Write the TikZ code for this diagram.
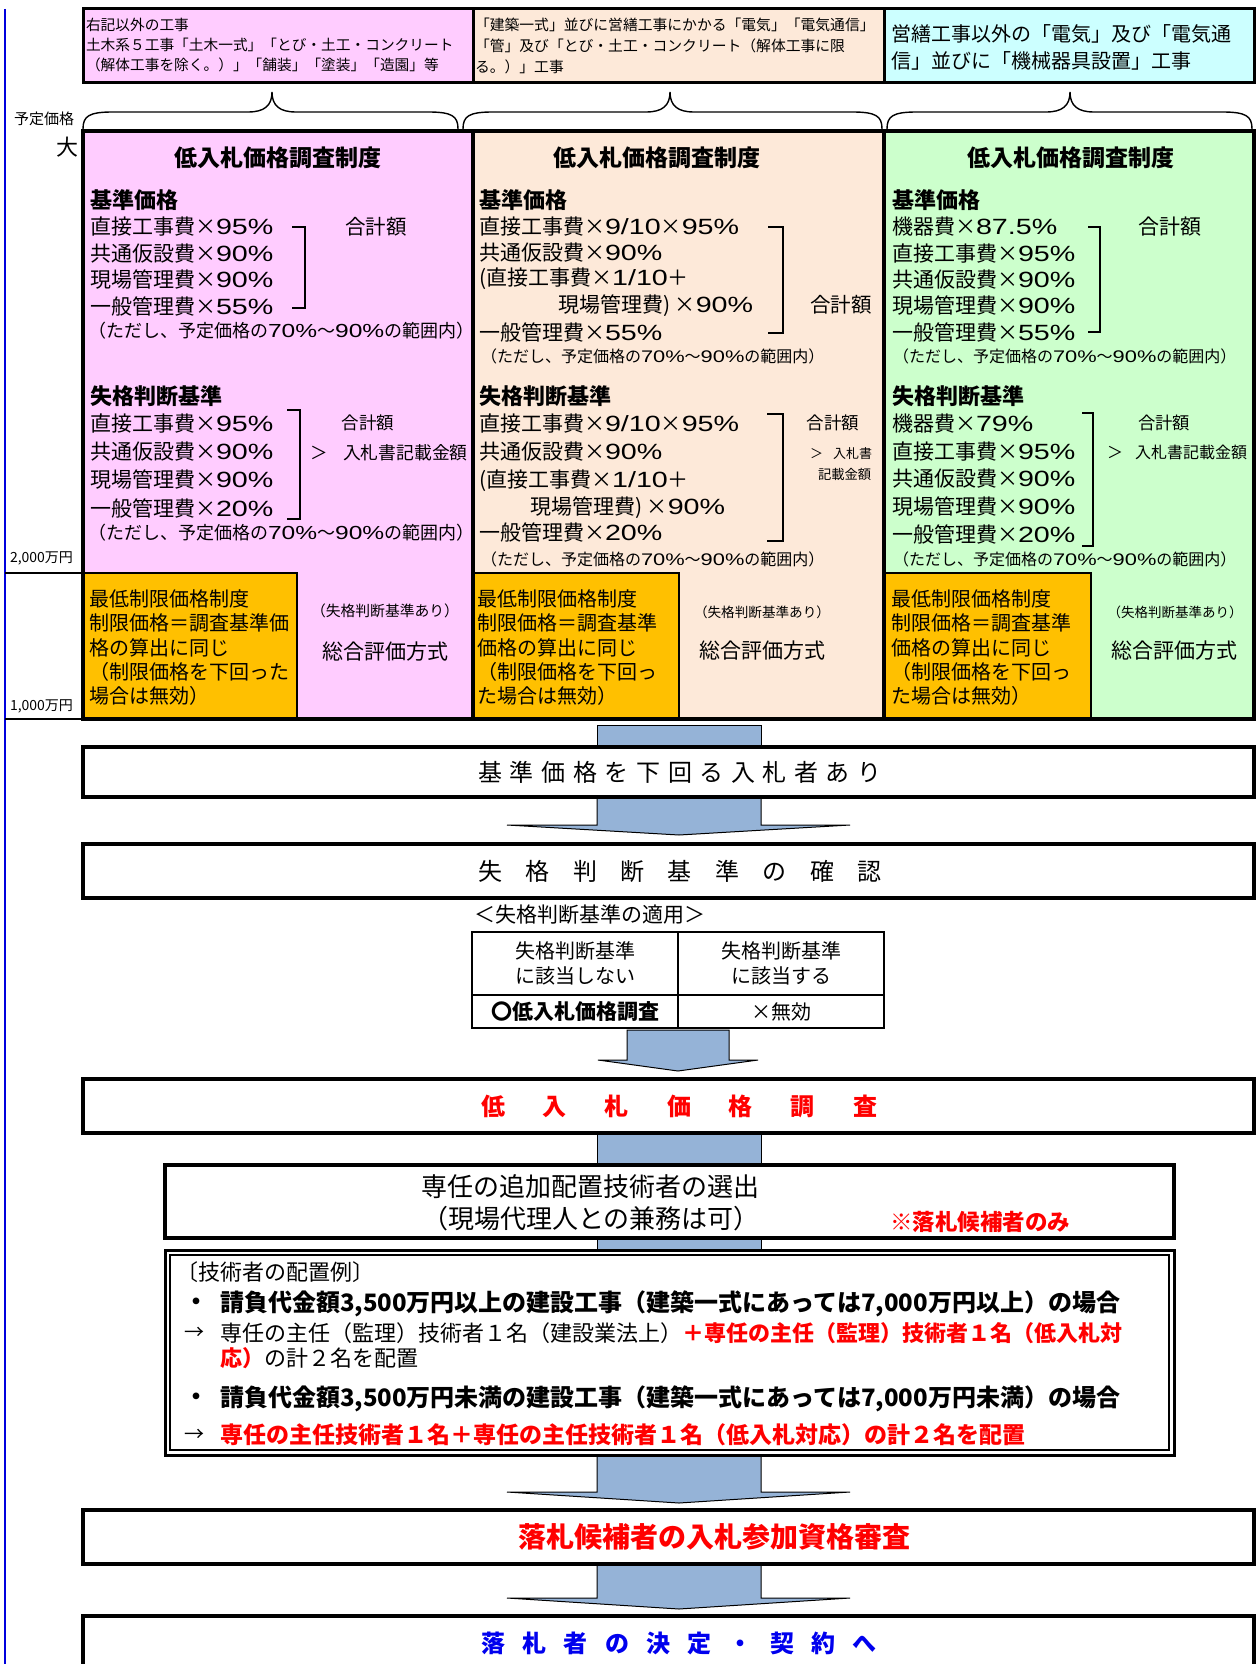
\documentclass[tikz,border=0pt]{standalone}
\usepackage{fontspec}
\setmainfont{Noto Sans CJK JP}
\newfontfamily\digf[Scale=1.05,FakeStretch=1.3]{Liberation Sans}
\newcommand\dg[1]{{\digf #1}}
\usetikzlibrary{calc}
\pgfdeclarelayer{back}
\pgfdeclarelayer{bg}
\pgfsetlayers{back,bg,main}
\definecolor{cpink}{HTML}{FFCCFF}
\definecolor{cpeach}{HTML}{FDE9D9}
\definecolor{ccyan}{HTML}{CCFFFF}
\definecolor{cgreen}{HTML}{CCFFCC}
\definecolor{corange}{HTML}{FFC000}
\definecolor{carrow}{HTML}{95B3D7}
\definecolor{cred}{HTML}{FF0000}
\definecolor{cblue}{HTML}{0000EE}
\definecolor{cline}{HTML}{0000DD}
\makeatletter
\def\lsp@loop#1#2\lsp@end{#1\ifx\relax#2\relax\else\kern\lsp@gap\relax\lsp@loop#2\lsp@end\fi}
\newcommand\lspaced[2]{\def\lsp@gap{#1}\lsp@loop#2\lsp@end}
\makeatother
\newcommand\notetext{（ただし、予定価格の\dg{70\%}～\dg{90\%}の範囲内）}
\newcommand\mybrace[3]{\draw[line width=1.4pt] (#1,129) .. controls (#1,116) and ({#1+6},112) .. ({#1+30},112) -- ({#2-24},112) .. controls ({#2-8},112) and (#2,106) .. (#2,92) .. controls (#2,106) and ({#2+8},112) .. ({#2+24},112) -- ({#3-30},112) .. controls ({#3-6},112) and (#3,116) .. (#3,129);}
\begin{document}
\begin{tikzpicture}[x=1pt,y=-1pt,
  every node/.style={inner sep=0pt,outer sep=0pt},
  tx/.style={anchor=west,font=\fontsize{#1}{#1}\selectfont},
  tb/.style={anchor=west,font=\bfseries\fontsize{#1}{#1}\selectfont},
  tc/.style={anchor=center,font=\fontsize{#1}{#1}\selectfont},
  tcb/.style={anchor=center,font=\bfseries\fontsize{#1}{#1}\selectfont},
  topbox/.style={draw,line width=3pt,anchor=north west,minimum height=74pt},
  colfill/.style={anchor=north west,minimum height=588pt},
  orbox/.style={draw,line width=2.5pt,fill=corange,anchor=north west,minimum height=146pt},
  flowbox/.style={draw,line width=4pt,fill=white,anchor=north west},
  cell/.style={draw,line width=1.6pt,anchor=north west,minimum width=206pt,align=center,font=\fontsize{20}{25}\selectfont},
  brk/.style={line width=1.5pt},
  blk/.style={fill=carrow,draw=black,line width=1pt,line join=miter}]
\begin{pgfonlayer}{back}
\fill[white] (0,0) rectangle (1257,1664);
\end{pgfonlayer}
\useasboundingbox (0,0) rectangle (1257,1664);
% left scale
\draw[cline,line width=2pt] (5,9) -- (5,1664);
\draw[line width=2pt] (5,573) -- (83,573);
\draw[line width=2pt] (5,719) -- (83,719);
\node[tx=15] (yotei) at (14,119) {予定価格};
\node[tc=22] (dai) at (67,147) {大};
\node[tx=14] (m2000) at (10,558) {2,000万円};
\node[tx=14] (m1000) at (10,706) {1,000万円};
% top category boxes
\node[topbox,fill=cpink,minimum width=390pt] (topL) at (83,9) {};
\node[topbox,fill=cpeach,minimum width=411pt] (topM) at (473,9) {};
\node[topbox,fill=ccyan,minimum width=370pt] (topR) at (884,9) {};
\node[tx=14.7] (tl1) at (86,25) {右記以外の工事};
\node[tx=14.7] (tl2) at (86,45) {土木系５工事「土木一式」「とび・土工・コンクリート};
\node[tx=14.7] (tl3) at (86,65) {（解体工事を除く。）」「舗装」「塗装」「造園」等};
\node[tx=14.8] (tm1) at (475,25) {「建築一式」並びに営繕工事にかかる「電気」「電気通信」};
\node[tx=14.8] (tm2) at (475,46) {「管」及び「とび・土工・コンクリート（解体工事に限};
\node[tx=14.8] (tm3) at (475,67) {る。）」工事};
\node[tx=20] (tr1) at (891,34) {営繕工事以外の「電気」及び「電気通};
\node[tx=20] (tr2) at (891,61) {信」並びに「機械器具設置」工事};
% braces
\mybrace{83}{272}{458}
\mybrace{463}{670}{882}
\mybrace{887}{1070}{1252}
% main columns
\node[colfill,fill=cpink,minimum width=390pt] (colL) at (83,131) {};
\node[colfill,fill=cpeach,minimum width=411pt] (colM) at (473,131) {};
\node[colfill,fill=cgreen,minimum width=370pt] (colR) at (884,131) {};
\node[orbox,minimum width=214pt] (orL) at (83,573) {};
\node[orbox,minimum width=206pt] (orM) at (473,573) {};
\node[orbox,minimum width=207pt] (orR) at (884,573) {};
\draw[line width=3.5pt] (colL.north west) rectangle (colL.south east);
\draw[line width=3.5pt] (colM.north west) rectangle (colM.south east);
\draw[line width=3.5pt] (colR.north west) rectangle (colR.south east);
% titles
\node[tcb=23] (titL) at (278,158) {低入札価格調査制度};
\node[tcb=23] (titM) at (657,158) {低入札価格調査制度};
\node[tcb=23] (titR) at (1071,158) {低入札価格調査制度};
% ---- left column
\node[tb=22] (Lh1) at (90,200) {基準価格};
\foreach \s [count=\i] in {直接工事費×\dg{95\%},共通仮設費×\dg{90\%},現場管理費×\dg{90\%},一般管理費×\dg{55\%}}
  \node[tx=21] (Lb\i) at (90,{227+26.4*(\i-1)}) {\s};
\node[tx=18] (Ln1) at (88,331) {\notetext};
\draw[brk] (292,227) -- (305,227) -- (305,308) -- (292,308);
\node[tc=20.5] (Ls1) at (376,227) {合計額};
\node[tb=22] (Lh2) at (90,396) {失格判断基準};
\foreach \s [count=\i] in {直接工事費×\dg{95\%},共通仮設費×\dg{90\%},現場管理費×\dg{90\%},一般管理費×\dg{20\%}}
  \node[tx=21] (Lf\i) at (90,{424+28*(\i-1)}) {\s};
\node[tx=18] (Ln2) at (88,533) {\notetext};
\draw[brk] (287,410) -- (300,410) -- (300,519) -- (287,519);
\node[tc=17.5] (Ls2) at (368,423) {合計額};
\node[tx=17.5] (Lgt) at (310,453) {＞};
\node[tx=17.8] (Lnk) at (343,453) {入札書記載金額};
% ---- middle column
\node[tb=22] (Mh1) at (479,200) {基準価格};
\node[tx=21] (Mb1) at (479,227) {直接工事費×\dg{9/10}×\dg{95\%}};
\node[tx=21] (Mb2) at (479,253) {共通仮設費×\dg{90\%}};
\node[tx=21] (Mb3) at (479,279) {(直接工事費×\dg{1/10}＋};
\node[tx=21] (Mb4) at (558,306) {現場管理費) ×\dg{90\%}};
\node[tx=21] (Mb5) at (479,332) {一般管理費×\dg{55\%}};
\node[tx=16] (Mn1) at (481,356) {\notetext};
\draw[brk] (768,227) -- (783,227) -- (783,333) -- (768,333);
\node[tc=20.5] (Ms1) at (841,305) {合計額};
\node[tb=22] (Mh2) at (479,396) {失格判断基準};
\node[tx=21] (Mf1) at (479,424) {直接工事費×\dg{9/10}×\dg{95\%}};
\node[tx=21] (Mf2) at (479,452) {共通仮設費×\dg{90\%}};
\node[tx=21] (Mf3) at (479,481) {(直接工事費×\dg{1/10}＋};
\node[tx=21] (Mf4) at (530,508) {現場管理費) ×\dg{90\%}};
\node[tx=21] (Mf5) at (479,532) {一般管理費×\dg{20\%}};
\node[tx=16] (Mn2) at (481,559) {\notetext};
\draw[brk] (767,414) -- (783,414) -- (783,541) -- (767,541);
\node[tc=17.5] (Ms2) at (833,423) {合計額};
\node[tx=13] (Mgt) at (810,454) {＞};
\node[tx=13] (Mnk1) at (833,454) {入札書};
\node[tx=13.3] (Mnk2) at (818,474) {記載金額};
% ---- right column
\node[tb=22] (Rh1) at (892,200) {基準価格};
\foreach \s [count=\i] in {機器費×\dg{87.5\%},直接工事費×\dg{95\%},共通仮設費×\dg{90\%},現場管理費×\dg{90\%},一般管理費×\dg{55\%}}
  \node[tx=21] (Rb\i) at (892,{227+26.25*(\i-1)}) {\s};
\node[tx=16] (Rn1) at (893,356) {\notetext};
\draw[brk] (1088,227) -- (1100,227) -- (1100,332) -- (1088,332);
\node[tc=21] (Rs1) at (1170,227) {合計額};
\node[tb=22] (Rh2) at (892,396) {失格判断基準};
\foreach \s [count=\i] in {機器費×\dg{79\%},直接工事費×\dg{95\%},共通仮設費×\dg{90\%},現場管理費×\dg{90\%},一般管理費×\dg{20\%}}
  \node[tx=21] (Rf\i) at (892,{424+27.5*(\i-1)}) {\s};
\node[tx=16] (Rn2) at (893,559) {\notetext};
\draw[brk] (1082,413) -- (1093,413) -- (1093,546) -- (1082,546);
\node[tc=17.3] (Rs2) at (1164,423) {合計額};
\node[tx=16] (Rgt) at (1107,452) {＞};
\node[tx=16] (Rnk) at (1135,452) {入札書記載金額};
% ---- orange boxes text
\foreach \s [count=\i] in {最低制限価格制度,制限価格＝調査基準価,格の算出に同じ,（制限価格を下回った,場合は無効）}
  \node[tx=20] (oL\i) at (89,{599+24.3*(\i-1)}) {\s};
\foreach \s [count=\i] in {最低制限価格制度,制限価格＝調査基準,価格の算出に同じ,（制限価格を下回っ,た場合は無効）}
  \node[tx=20] (oM\i) at (477,{599+24.3*(\i-1)}) {\s};
\foreach \s [count=\i] in {最低制限価格制度,制限価格＝調査基準,価格の算出に同じ,（制限価格を下回っ,た場合は無効）}
  \node[tx=20] (oR\i) at (891,{599+24.3*(\i-1)}) {\s};
\node[tc=14.8] (eL1) at (385,611) {（失格判断基準あり）};
\node[tc=21] (eL2) at (385,652) {総合評価方式};
\node[tc=13.6] (eM1) at (762,612) {（失格判断基準あり）};
\node[tc=21] (eM2) at (762,651) {総合評価方式};
\node[tc=13.5] (eR1) at (1175,612) {（失格判断基準あり）};
\node[tc=21] (eR2) at (1174,651) {総合評価方式};
% ---- flow boxes
\node[flowbox,minimum width=1171pt,minimum height=50pt] (b1) at (83,747) {};
\node[tc=24] (t1) at (680,772) {\lspaced{7.6pt}{基準価格を下回る入札者あり}};
\node[flowbox,minimum width=1171pt,minimum height=54pt] (b2) at (83,844) {};
\node[tc=24] (t2) at (680,871) {\lspaced{23.4pt}{失格判断基準の確認}};
\node[tx=21] (thd) at (474,915) {＜失格判断基準の適用＞};
\node[cell,minimum height=63pt] (c11) at (472,932) {失格判断基準\\に該当しない};
\node[cell,minimum height=63pt] (c12) at (678,932) {失格判断基準\\に該当する};
\node[cell,minimum height=33pt,font=\bfseries\fontsize{21}{21}\selectfont] (c21) at (472,995) {〇低入札価格調査};
\node[cell,minimum height=33pt] (c22) at (678,995) {×無効};
\node[flowbox,minimum width=1171pt,minimum height=54pt] (b3) at (83,1079) {};
\node[tcb=24,text=cred] (t3) at (679,1106) {\lspaced{38pt}{低入札価格調査}};
\node[flowbox,minimum width=1009pt,minimum height=73pt] (b4) at (165,1165) {};
\node[tc=26] (t4a) at (590,1187) {専任の追加配置技術者の選出};
\node[tc=26] (t4b) at (591,1219) {（現場代理人との兼務は可）};
\node[tb=22.5,text=cred] (t4c) at (890,1222) {※落札候補者のみ};
\node[draw,line width=3pt,fill=white,anchor=north west,minimum width=1009pt,minimum height=205pt] (b5) at (165,1250) {};
\draw[line width=1.5pt] ($(b5.north west)+(5,5)$) rectangle ($(b5.south east)+(-5,-5)$);
\node[tx=22] (p0) at (176,1272) {〔技術者の配置例〕};
\node[tb=24] (p1d) at (184,1304) {・};
\node[tb=24] (p1) at (220,1304) {請負代金額3,500万円以上の建設工事（建築一式にあっては7,000万円以上）の場合};
\node[tx=20] (p2a) at (184,1333) {→};
\node[tx=22] (p2) at (220,1333) {専任の主任（監理）技術者１名（建設業法上）\textcolor{cred}{\bfseries ＋専任の主任（監理）技術者１名（低入札対}};
\node[tx=22] (p3) at (220,1358) {\textcolor{cred}{\bfseries 応）}の計２名を配置};
\node[tb=24] (p4d) at (184,1399) {・};
\node[tb=24] (p4) at (220,1399) {請負代金額3,500万円未満の建設工事（建築一式にあっては7,000万円未満）の場合};
\node[tx=20] (p5a) at (184,1435) {→};
\node[tb=23,text=cred] (p5) at (220,1435) {専任の主任技術者１名＋専任の主任技術者１名（低入札対応）の計２名を配置};
\node[flowbox,minimum width=1171pt,minimum height=54pt] (b6) at (83,1510) {};
\node[tcb=28,text=cred] (t6) at (714,1537) {落札候補者の入札参加資格審査};
\node[flowbox,minimum width=1171pt,minimum height=80pt] (b7) at (83,1616) {};
\node[tcb=24,text=cblue] (t7) at (679,1643) {\lspaced{17.3pt}{落札者の決定・契約へ}};
% ---- connectors
\coordinate (aL) at (597,0); \coordinate (aR) at (761,0); \coordinate (aC) at (679,0);
\coordinate (hL) at (507,0); \coordinate (hR) at (850,0);
\coordinate (sL) at (627,0); \coordinate (sR) at (729,0); \coordinate (sC) at (678,0);
\coordinate (shL) at (598,0); \coordinate (shR) at (758,0);
\begin{pgfonlayer}{bg}
\draw[blk] ($(aL |- colM.south)+(0,6)$) rectangle (aR |- b1.north);
\draw[blk] (aL |- b1.south) -- ($(aL |- b2.north)+(0,-19)$) -- ($(hL |- b2.north)+(0,-19)$) -- ($(aC |- b2.north)+(0,-9)$) -- ($(hR |- b2.north)+(0,-19)$) -- ($(aR |- b2.north)+(0,-19)$) -- (aR |- b1.south) -- cycle;
\draw[blk] ($(sL |- c21.south)+(0,2)$) -- ($(sL |- b3.north)+(0,-19)$) -- ($(shL |- b3.north)+(0,-19)$) -- ($(sC |- b3.north)+(0,-8)$) -- ($(shR |- b3.north)+(0,-19)$) -- ($(sR |- b3.north)+(0,-19)$) -- ($(sR |- c21.south)+(0,2)$) -- cycle;
\draw[blk] (aL |- b3.south) rectangle (aR |- b4.north);
\draw[blk] (aL |- b4.south) rectangle (aR |- b5.north);
\draw[blk] (aL |- b5.south) -- ($(aL |- b6.north)+(0,-18)$) -- ($(hL |- b6.north)+(0,-18)$) -- ($(aC |- b6.north)+(0,-7)$) -- ($(hR |- b6.north)+(0,-18)$) -- ($(aR |- b6.north)+(0,-18)$) -- (aR |- b5.south) -- cycle;
\draw[blk] (aL |- b6.south) -- ($(aL |- b7.north)+(0,-18)$) -- ($(hL |- b7.north)+(0,-18)$) -- ($(aC |- b7.north)+(0,-7)$) -- ($(hR |- b7.north)+(0,-18)$) -- ($(aR |- b7.north)+(0,-18)$) -- (aR |- b6.south) -- cycle;
\end{pgfonlayer}
\end{tikzpicture}
\end{document}
